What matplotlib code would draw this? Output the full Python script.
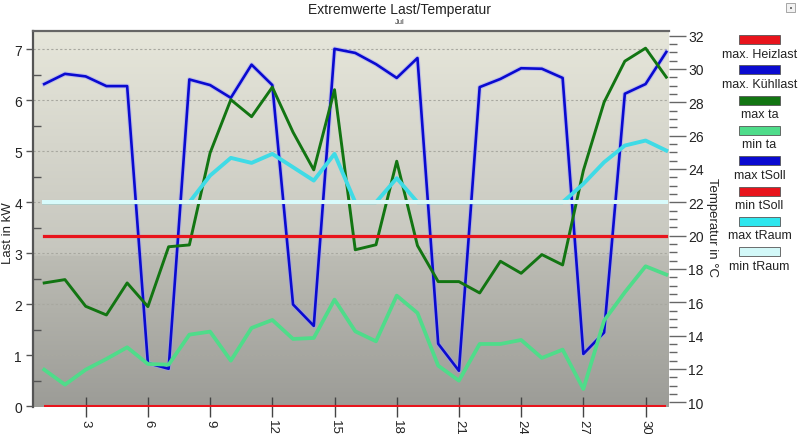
import numpy as np
import matplotlib
matplotlib.use("Agg")
import matplotlib.pyplot as plt
from matplotlib.ticker import MultipleLocator, FixedLocator
from matplotlib.patches import Rectangle
from matplotlib.colors import LinearSegmentedColormap

plt.rcParams['font.family'] = ['Liberation Sans', 'DejaVu Sans']

# ---------------- data ----------------
days = list(range(1, 32))
max_heizlast = [0.0] * 31
max_kuehllast = [6.32, 6.52, 6.47, 6.28, 6.28, 0.85, 0.74, 6.41, 6.30, 6.05,
                 6.70, 6.30, 2.00, 1.58, 7.01, 6.93, 6.71, 6.44, 6.83, 1.23,
                 0.70, 6.26, 6.42, 6.63, 6.62, 6.44, 1.03, 1.45, 6.13, 6.32, 6.95]
max_ta = [17.16, 17.36, 15.76, 15.24, 17.16, 15.74, 19.33, 19.44, 24.96, 28.15,
          27.13, 28.90, 26.20, 23.94, 28.75, 19.15, 19.45, 24.46, 19.40, 17.24,
          17.24, 16.56, 18.46, 17.74, 18.86, 18.24, 23.90, 28.00, 30.46, 31.24, 29.50]
min_ta = [11.96, 11.06, 11.96, 12.60, 13.30, 12.30, 12.26, 14.06, 14.24, 12.50,
          14.46, 14.94, 13.80, 13.86, 16.16, 14.26, 13.66, 16.40, 15.36, 12.20,
          11.30, 13.50, 13.50, 13.74, 12.66, 13.16, 10.80, 14.90, 16.60, 18.16, 17.66]
min_tsoll = [20.0] * 31
max_traum = [22.0, 22.0, 22.0, 22.0, 22.0, 22.0, 22.0, 22.0, 23.60, 24.66,
             24.36, 24.90, 24.10, 23.30, 24.90, 22.0, 22.0, 23.44, 22.0, 22.0,
             22.0, 22.0, 22.0, 22.0, 22.0, 22.0, 23.10, 24.40, 25.40, 25.70, 25.10]
min_traum = [22.0] * 31

legend_labels = ["max. Heizlast", "max. Kühllast", "max ta", "min ta",
                 "max tSoll", "min tSoll", "max tRaum", "min tRaum"]
legend_colors = ["#e8141c", "#0a0ad0", "#127512", "#4fdc8a",
                 "#0a0ad0", "#e8141c", "#2ee6ee", "#d2f8f8"]

x_ticks = [3, 6, 9, 12, 15, 18, 21, 24, 27, 30]
title = "Extremwerte Last/Temperatur"
subtitle = "Jul"

# ---------------- figure ----------------
W, H = 800, 435
fig = plt.figure(figsize=(W / 100, H / 100), dpi=100)
fig.patch.set_facecolor("white")

L, R, T, B = 33, 669, 32, 408
ax = fig.add_axes([L / W, 1 - B / H, (R - L) / W, (B - T) / H])
ax.set_xlim(0.46, 31.13)
ax.set_ylim(-0.01, 7.36)

# gradient background
cmap = LinearSegmentedColormap.from_list(
    "bg", [(0.0, "#9c9c97"), (0.40, "#bcbcb4"), (0.405, "#c6c6be"),
           (1.0, "#e6e6da")])
grad = np.linspace(0, 1, 256).reshape(-1, 1)
ax.imshow(grad, extent=[0, 1, 0, 1], transform=ax.transAxes, aspect="auto",
          cmap=cmap, origin="lower", zorder=0, interpolation="bilinear")

# grid
for v in range(1, 8):
    ax.axhline(v, color="#a8a8a0", lw=0.8, ls=(0, (2, 2)), zorder=0.5)

# left-axis series
ax.plot(days, max_heizlast, color=legend_colors[0], lw=1.5, zorder=2,
        solid_capstyle="butt")
ax.plot(days, max_kuehllast, color="#9a9aff", lw=3.4, alpha=0.45, zorder=2)
ax.plot(days, max_kuehllast, color=legend_colors[1], lw=1.9, zorder=2.1)

ax2 = ax.twinx()
ax2.set_ylim(9.72, 32.27)
ax2.plot(days, max_ta, color=legend_colors[2], lw=2.1)
ax2.plot(days, min_ta, color=legend_colors[3], lw=2.7)
ax2.plot(days, min_tsoll, color=legend_colors[5], lw=2.3)
ax2.plot(days, max_traum, color="#3fdbe6", lw=2.8)
ax2.plot(days, min_traum, color="#d8fbfb", lw=2.9)

# spines
for sp in ["right", "bottom"]:
    ax.spines[sp].set_visible(False)
ax.spines["left"].set_color("#555555")
ax.spines["left"].set_linewidth(1.6)
ax.spines["top"].set_color("#666666")
ax.spines["top"].set_linewidth(1.6)
for sp in ax2.spines.values():
    sp.set_visible(False)

# ticks left
ax.yaxis.set_major_locator(MultipleLocator(1))
ax.yaxis.set_minor_locator(MultipleLocator(0.5))
ax.tick_params(axis="y", which="major", direction="out", length=5, width=1,
               color="#555555", labelsize=10, pad=3, labelcolor="#222222")
ax.tick_params(axis="y", which="minor", direction="in", length=6, width=1,
               color="#555555")

# ticks x
ax.xaxis.set_major_locator(FixedLocator(x_ticks))
ax.set_xticklabels([str(t) for t in x_ticks], rotation=270)
ax.tick_params(axis="x", which="major", direction="inout", length=15, width=1,
               color="#444444", labelsize=9.5, pad=1, labelcolor="#222222")

# ticks right
ax2.yaxis.set_major_locator(MultipleLocator(2))
ax2.yaxis.set_minor_locator(MultipleLocator(0.5))
ax2.tick_params(axis="y", which="major", direction="out", length=12, width=1,
                color="#666666", labelsize=10, pad=2, labelcolor="#222222")
ax2.tick_params(axis="y", which="minor", direction="out", length=6, width=1,
                color="#666666")

# labels
fig.text(8 / W, 1 - 233 / H, "Last in kW", rotation=90, ha="center",
         va="center", fontsize=9.5, color="#222222")
fig.text(712 / W, 1 - 228 / H, "Temperatur in °C", rotation=270, ha="center",
         va="center", fontsize=9.5, color="#222222")
fig.text(0.5, 1 - 10 / H, title, ha="center", va="center", fontsize=10,
         color="#222222")
fig.text(0.5, 1 - 22 / H, subtitle, ha="center", va="center", fontsize=5.5,
         color="#333333")

# legend (manual)
for i, (lab, col) in enumerate(zip(legend_labels, legend_colors)):
    top = 36 + i * 30.3
    fig.patches.append(Rectangle(((739) / W, 1 - (top + 9) / H), 41 / W, 9 / H,
                                 transform=fig.transFigure, facecolor=col,
                                 edgecolor="#555555", lw=0.6))
    fig.text(759.5 / W, 1 - (top + 18.5) / H, lab, ha="center", va="center",
             fontsize=9, color="#222222")

# small icon top-right
fig.patches.append(Rectangle((786 / W, 1 - 13 / H), 9 / W, 9 / H,
                             transform=fig.transFigure, facecolor="#f2f2f2",
                             edgecolor="#999999", lw=0.6))
fig.patches.append(Rectangle((789.5 / W, 1 - 9.5 / H), 2 / W, 2 / H,
                             transform=fig.transFigure, facecolor="#777777",
                             edgecolor="none"))

fig.savefig("out.png", dpi=100)
